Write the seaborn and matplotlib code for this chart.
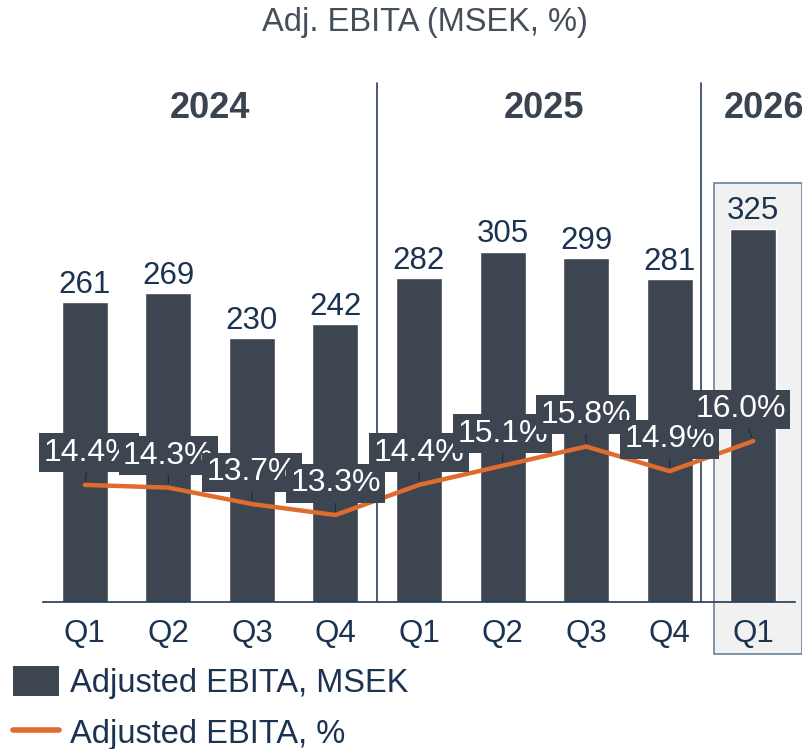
import numpy as np
import pandas as pd
import matplotlib
matplotlib.use("Agg")
import matplotlib.pyplot as plt
import seaborn as sns
from matplotlib.patches import Patch, Rectangle
from matplotlib.lines import Line2D

# -----------------------------
# DATA
# -----------------------------
years = ["2024", "2024", "2024", "2024", "2025", "2025", "2025", "2025", "2026"]
quarters = ["Q1", "Q2", "Q3", "Q4", "Q1", "Q2", "Q3", "Q4", "Q1"]
ebita_msek = [261, 269, 230, 242, 282, 305, 299, 281, 325]
ebita_pct = [14.4, 14.3, 13.7, 13.3, 14.4, 15.1, 15.8, 14.9, 16.0]

title = "Adj. EBITA (MSEK, %)"
legend_labels = ["Adjusted EBITA, MSEK", "Adjusted EBITA, %"]

# -----------------------------
# STYLE
# -----------------------------
BAR = "#3c4550"
ORANGE = "#e06b2e"
NAVY = "#1b3350"
GREY_TXT = "#454f5a"
SEP = "#2d4055"

sns.set_theme(style="white")
plt.rcParams["font.family"] = ["Liberation Sans", "DejaVu Sans"]

df = pd.DataFrame({
    "period": [f"{y} {q}" for y, q in zip(years, quarters)],
    "msek": ebita_msek,
    "pct": ebita_pct,
})
pos = np.arange(len(df))

fig = plt.figure(figsize=(8.03, 7.49), dpi=100)
ax = fig.add_axes([43 / 803, 147 / 749, 752 / 803, 502 / 749])

# -----------------------------
# BARS
# -----------------------------
sns.barplot(data=df, x="period", y="msek", color=BAR, width=0.55,
            saturation=1, ax=ax, zorder=1)
ax.bar_label(ax.containers[0], fontsize=22.5, color=NAVY, padding=1.5)

ax.set_xlim(-0.5, len(df) - 0.5)
ax.set_ylim(0, 502 / 1.149)
ax.set_xticks(pos)
ax.set_xticklabels(quarters, fontsize=22.5, color=NAVY)
ax.tick_params(axis="x", length=0, pad=12)
ax.set_yticks([])
ax.set_xlabel("")
ax.set_ylabel("")
for s in ["top", "left", "right"]:
    ax.spines[s].set_visible(False)
ax.spines["bottom"].set_color("#1f3a5a")
ax.spines["bottom"].set_linewidth(1.2)

# highlight box for latest quarter
last = len(df) - 1
ax.add_patch(Rectangle((last - 0.47, -45), 1.05, 410, facecolor="#f1f1f1",
                       edgecolor="#5d7893", lw=1.1, zorder=0.5, clip_on=False))

# year separators and labels
for xs in [3.5, 7.37]:
    ax.axvline(xs, ymin=0, ymax=1.034, color=SEP, lw=1.2, clip_on=False, zorder=2)

year_names = ["2024", "2025", "2026"]
for yname in year_names:
    idx = [i for i, y in enumerate(years) if y == yname]
    xc = np.mean(idx) if len(idx) > 1 else idx[0] + 0.13
    ax.text(xc, 0.984, yname, transform=ax.get_xaxis_transform(),
            ha="center", va="center", fontsize=26, fontweight="bold", color="#3a4450")

# -----------------------------
# LINE (percent)
# -----------------------------
ax2 = ax.twinx()
sns.lineplot(x=pos, y=df["pct"], ax=ax2, color=ORANGE, lw=3.2,
             solid_capstyle="round", zorder=3)
ax2.set_ylim(10.125, 28.45)
ax2.set_yticks([])
ax2.set_ylabel("")
for s in ax2.spines.values():
    s.set_visible(False)

dx = [3, 0, 0, 0, 0, 0, 0, 0, -9]
for i, p in enumerate(ebita_pct):
    ax2.annotate(f"{p:.1f}%", xy=(pos[i], p), xytext=(dx[i], 23),
                 textcoords="offset points", ha="center", va="center",
                 fontsize=23, color="white", zorder=4,
                 bbox=dict(boxstyle="square,pad=0.14", fc=BAR, ec="none"),
                 arrowprops=dict(arrowstyle="-", color="#1b2b3b", lw=0.8,
                                 shrinkA=0, shrinkB=3))

# -----------------------------
# TITLE + LEGEND
# -----------------------------
fig.text(425 / 803, 1 - 22 / 749, title, ha="center", va="center",
         fontsize=23.5, color=GREY_TXT)

handles = [Patch(facecolor=BAR, edgecolor="none"),
           Line2D([0], [0], color=ORANGE, lw=4, solid_capstyle="round")]
fig.legend(handles, legend_labels, loc="upper left",
           bbox_to_anchor=(13 / 803, 1 - 666 / 749), frameon=False,
           fontsize=23.5, labelcolor=NAVY, handlelength=1.4, handleheight=1.05,
           handletextpad=0.35, labelspacing=0.55, borderpad=0, borderaxespad=0)

fig.savefig("out.png", dpi=100)
